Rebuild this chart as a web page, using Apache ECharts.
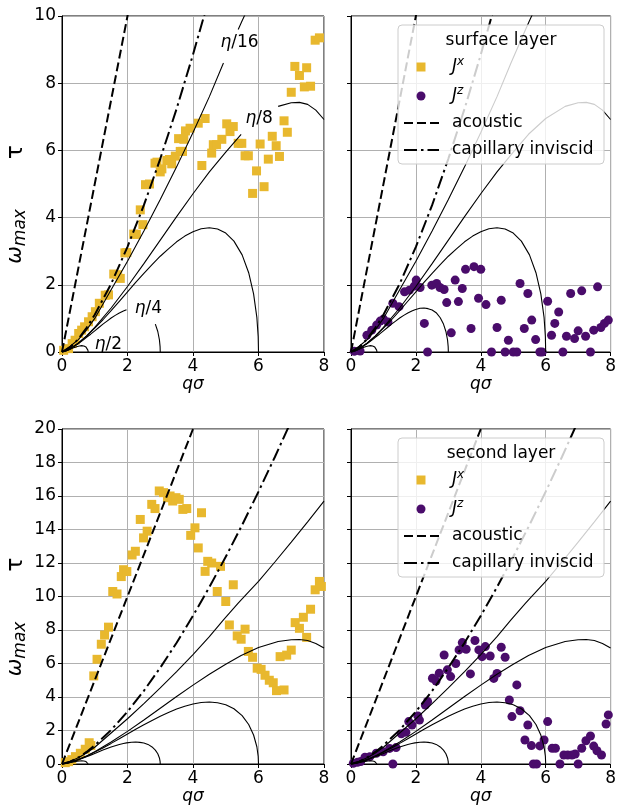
<!DOCTYPE html>
<html>
<head>
<meta charset="utf-8">
<script src="https://cdn.jsdelivr.net/npm/echarts@6/dist/echarts.min.js"></script>
<style>
html, body { margin: 0; padding: 0; background: #fff; }
#chart { width: 619px; height: 809px; }
</style>
</head>
<body>
<div id="chart"></div>
<script>
// measured points, [q sigma, omega_max tau]
var surfaceJx = [[0.05,0.05],[0.2,0.1],[0.31,0.25],[0.4,0.35],[0.51,0.55],[0.6,0.65],[0.69,0.75],[0.81,0.9],
	[0.92,1.05],[1.02,1.2],[1.14,1.45],[1.32,1.69],[1.42,1.7],[1.58,2.32],[1.7,2.3],[1.78,2.19],[1.92,2.95],
	[1.98,2.96],[2.19,3.51],[2.27,3.5],[2.39,4.23],[2.47,3.79],[2.55,4.98],[2.67,5.0],[2.84,5.62],[2.9,5.65],
	[3.0,5.36],[3.05,5.45],[3.2,5.7],[3.28,5.73],[3.35,5.6],[3.46,5.83],[3.56,6.35],[3.61,5.97],[3.68,5.97],
	[3.72,6.33],[3.77,6.58],[3.91,6.66],[4.16,6.81],[4.27,5.55],[4.37,6.95],[4.57,5.92],[4.62,6.17],[4.72,6.17],
	[4.88,6.33],[5.03,6.79],[5.13,6.56],[5.23,6.71],[5.38,6.21],[5.49,6.21],[5.59,5.84],[5.69,5.84],[5.82,4.72],
	[5.94,5.39],[6.05,6.19],[6.17,4.92],[6.3,5.74],[6.42,6.42],[6.54,6.14],[6.64,5.82],[6.78,6.88],[6.88,6.54],
	[7.0,7.73],[7.11,8.5],[7.25,8.23],[7.4,7.89],[7.47,8.46],[7.59,7.91],[7.73,9.28],[7.86,9.35]];

var surfaceJz = [[0.1,0.02],[0.28,0.03],[0.49,0.5],[0.64,0.65],[0.79,0.8],[0.9,0.92],[1.0,0.98],[1.14,0.89],
	[1.29,1.45],[1.48,1.35],[1.65,1.79],[1.8,1.84],[1.95,1.96],[2.01,2.14],[2.13,1.92],[2.26,0.85],[2.36,0.0],
	[2.49,1.99],[2.64,2.04],[2.74,1.92],[2.87,1.86],[2.95,1.47],[3.09,0.57],[3.21,2.14],[3.31,1.5],[3.43,1.89],
	[3.53,2.46],[3.7,0.7],[3.79,2.54],[3.93,1.6],[4.0,2.46],[4.16,1.41],[4.33,0],[4.5,0.73],[4.63,1.54],[4.75,0],
	[4.85,0.35],[5.0,0],[5.11,0],[5.21,2.04],[5.34,0.7],[5.45,1.74],[5.57,0.95],[5.69,0.37],[5.82,0],[5.89,0],
	[6.06,1.51],[6.18,0.5],[6.28,0.85],[6.4,1.19],[6.53,0],[6.64,0.47],[6.77,1.74],[6.89,0.4],[7.0,0.63],
	[7.11,1.82],[7.23,0.47],[7.38,0],[7.48,0.65],[7.6,1.94],[7.7,0.73],[7.81,0.85],[7.93,0.95],[8.01,1.56]];

var secondJx = [[0.1,0.08],[0.2,0.14],[0.3,0.26],[0.41,0.44],[0.56,0.64],[0.71,0.88],[0.83,1.27],[0.88,1.1],
	[0.97,5.26],[1.07,6.25],[1.2,7.15],[1.3,7.7],[1.42,8.17],[1.55,10.3],[1.68,10.15],[1.81,11.19],[1.88,11.6],
	[1.98,11.49],[2.14,12.48],[2.24,12.7],[2.39,14.6],[2.49,13.5],[2.6,13.9],[2.74,15.5],[2.84,15.25],[2.97,16.3],
	[3.1,16.2],[3.22,15.9],[3.3,16.0],[3.38,15.7],[3.48,15.9],[3.58,15.8],[3.69,15.2],[3.81,15.25],[3.93,13.65],
	[4.06,14.1],[4.16,12.9],[4.26,15.0],[4.37,11.5],[4.45,12.1],[4.57,12.0],[4.74,10.3],[4.84,11.8],[5.0,9.7],
	[5.11,8.3],[5.23,10.7],[5.35,7.65],[5.47,7.45],[5.59,8.05],[5.69,6.72],[5.82,6.37],[5.96,5.72],[6.08,5.65],
	[6.2,5.3],[6.33,5.0],[6.45,4.85],[6.55,4.38],[6.66,6.41],[6.78,4.42],[6.86,6.5],[7.0,6.8],[7.12,8.44],
	[7.25,8.1],[7.37,8.76],[7.47,7.56],[7.59,9.24],[7.73,10.4],[7.86,10.9],[7.92,10.6]];

var secondJz = [[0.07,0.04],[0.2,0.1],[0.3,0.15],[0.43,0.4],[0.58,0.44],[0.78,0.64],[0.99,0.73],[1.19,0.93],
	[1.29,0],[1.39,0.98],[1.55,1.8],[1.69,1.9],[1.78,2.53],[1.88,2.33],[2.06,2.87],[2.11,2.62],[2.29,3.52],
	[2.36,3.73],[2.51,5.12],[2.62,4.95],[2.72,5.42],[2.87,6.51],[2.97,5.62],[3.07,5.22],[3.23,6.0],[3.33,6.81],
	[3.43,7.25],[3.55,6.85],[3.68,5.38],[3.82,7.37],[3.94,6.81],[4.04,6.41],[4.14,7.01],[4.29,6.45],[4.4,5.11],
	[4.5,5.41],[4.63,6.97],[4.75,6.37],[4.88,3.82],[4.96,2.83],[5.11,4.72],[5.21,3.18],[5.36,1.43],[5.45,2.33],
	[5.56,1.1],[5.62,0],[5.72,0],[5.82,1.08],[5.95,1.43],[6.06,2.53],[6.2,0.94],[6.3,0.94],[6.44,0],[6.56,0.54],
	[6.68,0.54],[6.81,0.54],[6.91,0.6],[7.0,0],[7.11,0.94],[7.24,1.39],[7.38,1.67],[7.48,1.07],[7.58,0.79],
	[7.72,0.54],[7.86,2.39],[7.93,2.93],[8.01,5.05]];

// theory curves
var acoustic = [[0,0],[2,10],[4,20]];
var capillary = [[0,0],[0.25,0.14],[0.5,0.39],[0.75,0.72],[1,1.11],[1.5,2.03],[2,3.13],[2.5,4.37],[3,5.75],
	[3.5,7.24],[4,8.85],[4.5,10.56],[5,12.37],[5.5,14.27],[6,16.26],[6.5,18.33],[7,20.48]];
var eta16 = [[0,0],[0.25,0.17],[0.5,0.37],[0.75,0.66],[1,1.0],[1.5,1.85],[2,2.7],[2.5,3.6],[3,4.54],[3.5,5.51],
	[4,6.53],[4.5,7.6],[4.93,8.6],[5.38,9.6],[5.5,9.86],[6,10.9],[6.5,12.06],[7,13.25],[7.5,14.45],[8,15.69]];
var eta8 = [[0,0],[0.25,0.1],[0.5,0.27],[0.75,0.48],[1,0.73],[1.5,1.31],[2,1.95],[2.5,2.63],[3,3.33],[3.5,4.03],
	[4,4.71],[4.5,5.36],[5,5.95],[5.47,6.48],[6,6.95],[6.6,7.31],[7,7.42],[7.25,7.43],[7.5,7.37],[7.75,7.2],[8,6.92]];
var arc6 = [[0,0],[0.25,0.1],[0.5,0.26],[0.75,0.47],[1,0.71],[1.25,0.96],[1.5,1.23],[1.75,1.51],[2,1.79],
	[2.25,2.07],[2.5,2.34],[2.75,2.6],[3,2.85],[3.25,3.07],[3.5,3.28],[3.75,3.45],[4,3.58],[4.25,3.67],[4.5,3.7],
	[4.75,3.66],[5,3.54],[5.25,3.3],[5.5,2.89],[5.7,2.36],[5.85,1.73],[5.95,1.03],[5.99,0.46],[6,0]];
var eta4 = [[0,0],[0.125,0.03],[0.25,0.09],[0.375,0.17],[0.5,0.25],[0.625,0.34],[0.75,0.44],[0.875,0.53],
	[1,0.63],[1.125,0.73],[1.25,0.83],[1.375,0.92],[1.5,1.01],[1.625,1.09],[1.75,1.16],[1.875,1.22],[1.97,1.26],
	[2.125,1.3],[2.25,1.31],[2.375,1.29],[2.5,1.25],[2.625,1.17],[2.75,1.02],[2.85,0.83],[2.925,0.61],
	[2.975,0.36],[2.995,0.16],[3,0]];
var eta2 = [[0,0],[0.067,0.012],[0.133,0.035],[0.2,0.062],[0.267,0.09],[0.333,0.118],[0.4,0.143],[0.467,0.165],
	[0.533,0.18],[0.6,0.19],[0.667,0.18],[0.733,0.146],[0.76,0.12],[0.779,0.09],[0.79,0.055],[0.8,0]];

// contour labels of the top left panel, and the gaps they sit in
var etaLabels = ['η/16', 'η/8', 'η/4', 'η/2'];
var etaLabelPos = [[5.42,9.2],[6.02,6.95],[2.64,1.3],[1.42,0.22]];
var xTicks = [0, 2, 4, 6, 8];
var yMaxTop = 10;
var yMaxBottom = 20;

var FONT = 'DejaVu Sans';
var YELLOW = '#E8B82E';
var PURPLE = '#4A0C6B';

var chart = echarts.init(document.getElementById('chart'), null, { renderer: 'canvas' });

var grids = [
	{ left: 62, top: 16, width: 262, height: 336 },
	{ left: 351, top: 16, width: 262, height: 336 },
	{ left: 62, top: 429, width: 262, height: 335 },
	{ left: 351, top: 429, width: 262, height: 335 }
];
grids.forEach(function(g) {
	g.show = true;
	g.borderColor = '#000';
	g.borderWidth = 1;
	g.backgroundColor = 'transparent';
});

function gapped(pts, from, to) {
	var out = [];
	var broke = false;
	pts.forEach(function(p) {
		if (p[0] > from && p[0] < to) {
			if (!broke) {
				out.push([p[0], '-']);
				broke = true;
			}
			return;
		}
		if (p[0] >= to && !broke) {
			out.push([(from + to) / 2, '-']);
			broke = true;
		}
		out.push(p);
	});
	return out;
}

var xAxes = grids.map(function(g, i) {
	return {
		type : 'value',
		gridIndex : i,
		min : xTicks[0],
		max : xTicks[xTicks.length - 1],
		interval : 2,
		name : '{i|qσ}',
		nameLocation : 'middle',
		nameGap : 22,
		nameTextStyle : {
			rich : { i : { fontFamily : FONT, fontSize : 17, fontStyle : 'italic', color : '#000' } }
		},
		axisLine : { show : true, lineStyle : { color : '#000', width : 1 } },
		axisTick : { show : true, inside : false, length : 4, lineStyle : { color : '#000' } },
		axisLabel : { fontFamily : FONT, fontSize : 17, color : '#000', margin : 6 },
		splitLine : { show : true, lineStyle : { color : '#b0b0b0', width : 1 } }
	};
});

var yAxes = grids.map(function(g, i) {
	var left = (i % 2 === 0);
	return {
		type : 'value',
		gridIndex : i,
		min : 0,
		max : i < 2 ? yMaxTop : yMaxBottom,
		interval : 2,
		name : left ? '{w|ω}{s|max}{t|τ}' : '',
		nameLocation : 'middle',
		nameGap : 33,
		nameRotate : 90,
		nameTextStyle : {
			padding : [0, 41, 0, 0],
			rich : {
				w : { fontFamily : FONT, fontSize : 21, fontStyle : 'italic', color : '#000', lineHeight : 26 },
				s : { fontFamily : FONT, fontSize : 17, fontStyle : 'italic', color : '#000', lineHeight : 14,
					verticalAlign : 'bottom' },
				t : { fontFamily : FONT, fontSize : 23, color : '#000', lineHeight : 26, padding : [0, 0, 0, 50] }
			}
		},
		axisLine : { show : true, lineStyle : { color : '#000', width : 1 } },
		axisTick : { show : true, inside : false, length : 4, lineStyle : { color : '#000' } },
		axisLabel : { show : left, fontFamily : FONT, fontSize : 17, color : '#000', margin : 6 },
		splitLine : { show : true, lineStyle : { color : '#b0b0b0', width : 1 } }
	};
});

function curve(i, data, type, width) {
	return {
		type : 'line',
		xAxisIndex : i,
		yAxisIndex : i,
		data : data,
		showSymbol : false,
		symbol : 'none',
		silent : true,
		clip : true,
		z : 5,
		lineStyle : { color : '#000', width : width, type : type }
	};
}

function panelSeries(i, points, isJx, labelled) {
	var list = [ {
		type : 'scatter',
		xAxisIndex : i,
		yAxisIndex : i,
		data : points,
		symbol : isJx ? 'rect' : 'circle',
		symbolSize : 9,
		clip : true,
		z : 2,
		itemStyle : { color : isJx ? YELLOW : PURPLE, opacity : 1 }
	} ];
	list.push(curve(i, acoustic, [9, 4], 2));
	list.push(curve(i, capillary, [13, 4, 2.5, 4], 2));
	list.push(curve(i, labelled ? gapped(eta16, 4.93, 5.38) : eta16, 'solid', 1.1));
	list.push(curve(i, labelled ? gapped(eta8, 5.47, 6.6) : eta8, 'solid', 1.1));
	list.push(curve(i, arc6, 'solid', 1.1));
	list.push(curve(i, labelled ? gapped(eta4, 1.97, 2.85) : eta4, 'solid', 1.1));
	list.push(curve(i, eta2, 'solid', 1.1));
	if (labelled) {
		list.push({
			type : 'scatter',
			xAxisIndex : i,
			yAxisIndex : i,
			symbolSize : 0,
			silent : true,
			z : 6,
			itemStyle : { color : '#000', opacity : 1 },
			data : etaLabels.map(function(t, k) {
				return { name : t, value : etaLabelPos[k] };
			}),
			label : {
				show : true,
				position : 'inside',
				color : '#000',
				opacity : 1,
				textBorderWidth : 0,
				formatter : function(p) {
					return '{i|η}{n|' + p.name.slice(1) + '}';
				},
				rich : {
					i : { fontFamily : FONT, fontSize : 17, fontStyle : 'italic', color : '#000',
						textBorderWidth : 0 },
					n : { fontFamily : FONT, fontSize : 17, color : '#000', textBorderWidth : 0 }
				}
			}
		});
	}
	return list;
}

var series = [].concat(
	panelSeries(0, surfaceJx, true, true),
	panelSeries(1, surfaceJz, false, false),
	panelSeries(2, secondJx, true, false),
	panelSeries(3, secondJz, false, false)
);

function legendBox(top, title) {
	var rich = {
		j : { fontFamily : FONT, fontSize : 17, fontStyle : 'italic', fill : '#000', lineHeight : 22 },
		s : { fontFamily : FONT, fontSize : 12, fontStyle : 'italic', fill : '#000', lineHeight : 12,
			verticalAlign : 'top' }
	};
	function label(y, text, useRich) {
		return {
			type : 'text',
			z : 101,
			style : {
				x : 452,
				y : y,
				text : text,
				fontFamily : FONT,
				fontSize : 17,
				fill : '#000',
				verticalAlign : 'middle',
				rich : useRich ? rich : undefined
			}
		};
	}
	return [ {
		type : 'rect',
		z : 100,
		shape : { x : 398, y : top + 9, width : 206, height : 139, r : 4 },
		style : { fill : 'rgba(255,255,255,0.8)', stroke : '#cccccc', lineWidth : 1 }
	}, {
		type : 'text',
		z : 101,
		style : { x : 501, y : top + 25, text : title, fontFamily : FONT, fontSize : 17, fill : '#000',
			align : 'center', verticalAlign : 'middle' }
	}, {
		type : 'rect',
		z : 101,
		shape : { x : 416.5, y : top + 46.5, width : 9, height : 9 },
		style : { fill : YELLOW }
	}, label(top + 51, '{j|J}{s|x}', true), {
		type : 'circle',
		z : 101,
		shape : { cx : 421, cy : top + 80, r : 4.5 },
		style : { fill : PURPLE }
	}, label(top + 80, '{j|J}{s|z}', true), {
		type : 'line',
		z : 101,
		shape : { x1 : 404, y1 : top + 107, x2 : 439, y2 : top + 107 },
		style : { stroke : '#000', lineWidth : 2, lineDash : [9, 4] }
	}, label(top + 107, 'acoustic', false), {
		type : 'line',
		z : 101,
		shape : { x1 : 404, y1 : top + 134, x2 : 439, y2 : top + 134 },
		style : { stroke : '#000', lineWidth : 2, lineDash : [13, 4, 2.5, 4] }
	}, label(top + 134, 'capillary inviscid', false) ];
}

chart.setOption({
	animation : false,
	backgroundColor : '#fff',
	textStyle : { fontFamily : FONT },
	grid : grids,
	xAxis : xAxes,
	yAxis : yAxes,
	series : series,
	graphic : legendBox(16, 'surface layer').concat(legendBox(429, 'second layer'))
});
</script>
</body>
</html>
